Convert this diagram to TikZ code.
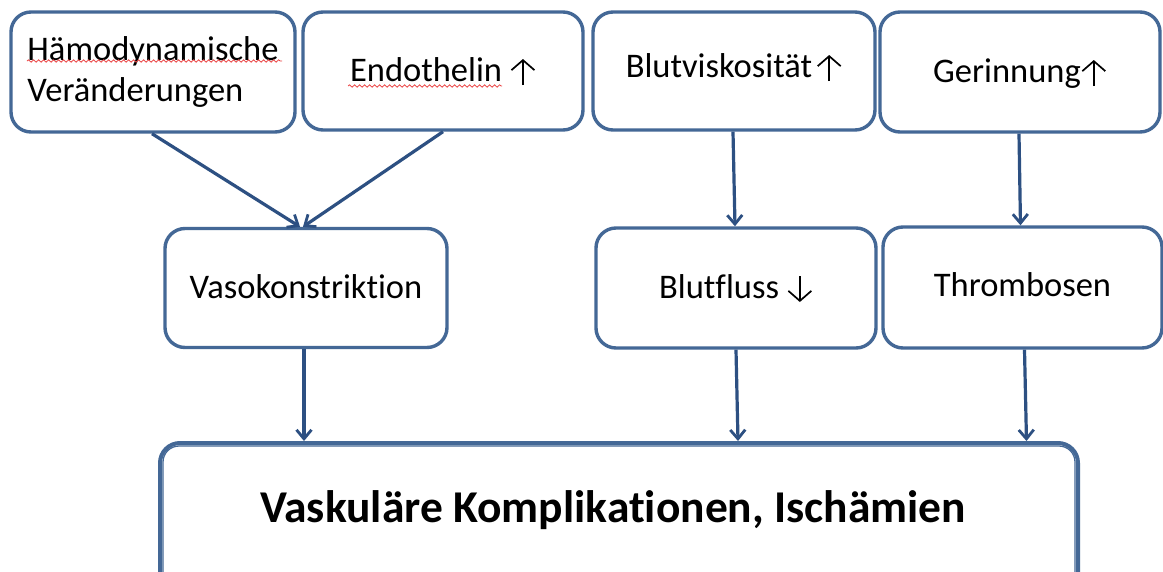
\documentclass[tikz,border=0pt]{standalone}
\usepackage{fontspec}
\setmainfont{Carlito}[Ligatures={NoCommon}]
\usetikzlibrary{arrows.meta,decorations.pathmorphing}
\definecolor{boxblue}{RGB}{68,104,150}
\definecolor{arrblue}{RGB}{45,80,130}
\definecolor{wavered}{RGB}{235,70,70}
\tikzset{
  glypharr/.style={draw=black, fill=none, line width=1.7pt, sharp corners,
    -{Straight Barb[length=10pt,width=23pt,line width=1.7pt]}},
  box/.style={draw=boxblue, line width=3.4pt, rounded corners=20pt, fill=white,
    inner sep=0pt, font=\fontsize{34.5}{41}\selectfont, text=black},
  sbox/.style={box, text height=20pt, text depth=0pt},
  conn/.style={draw=arrblue, line width=3.2pt, -{Straight Barb[length=9pt,width=15pt,line width=2.8pt]}},
  wave/.style={draw=wavered, line width=0.8pt, decorate,
    decoration={snake, amplitude=1.2pt, segment length=5pt}},
  thinline/.style={draw=boxblue, line width=1.3pt, rounded corners=16pt}
}
\newcommand{\uparr}{\tikz[x=1pt,y=1pt,baseline=0pt]{\path (-13,-4) rectangle (13,22);
  \draw[glypharr] (0,-4) -- (0,22);}}
\newcommand{\dnarr}{\tikz[x=1pt,y=1pt,baseline=0pt]{\path (-13,-4) rectangle (13,22);
  \draw[glypharr] (0,22) -- (0,-4);}}
\begin{document}
\begin{tikzpicture}[x=1pt,y=-1pt]
\useasboundingbox (0,0) rectangle (1163,571);
\clip (0,0) rectangle (1163,571);
\fill[white] (0,0) rectangle (1163,571);
% top row
\node[box, minimum width=284pt, minimum height=120pt, align=left] (b1) at (153,72)
  {Hämodynamische\\Veränderungen};
\node[sbox, minimum width=280pt, minimum height=118pt] (b2) at (443,71) {Endothelin \uparr};
\node[sbox, text height=12pt, minimum width=282pt, minimum height=118pt] (b3) at (734,71) {Blutviskosität\hspace{4pt}\uparr};
\node[sbox, minimum width=280pt, minimum height=120pt] (b4) at (1020,72) {Gerinnung\uparr};
% middle row
\node[sbox, minimum width=282pt, minimum height=119pt] (b5) at (306,288) {Vasokonstriktion};
\node[sbox, minimum width=280pt, minimum height=120pt] (b6) at (736,288) {Blutfluss \dnarr};
\node[sbox, text height=17pt, minimum width=279pt, minimum height=121pt] (b7) at (1022.5,287.5) {Thrombosen};
% bottom
\node[box, line width=4pt, minimum width=918pt, minimum height=150pt] (b8) at (619,518) {};
\draw[thinline] ([shift={(5,5)}]b8.north west) rectangle ([shift={(-5,-5)}]b8.south east);
\node[font=\bfseries\fontsize{45.5}{50}\selectfont, inner sep=0pt] (b8t) at (613,510)
  {Vaskuläre Komplikationen, Ischämien};
% spell-check waves
\draw[wave] (27,61) -- (282,61);
\draw[wave] (348,86) -- (502,86);
% connectors
\draw[conn] ([xshift=-1pt]b1.south) -- ([xshift=-6pt]b5.north);
\draw[conn] (b2.south) -- ([xshift=-3pt]b5.north);
\draw[conn] ([xshift=-1pt]b3.south) -- ([xshift=-1pt]b6.north);
\draw[conn] ([xshift=-1pt]b4.south) -- ([xshift=-2pt]b7.north);
\draw[conn] ([xshift=-2pt]b5.south) -- ([xshift=-2pt]b5.south |- b8.north);
\draw[conn] (b6.south) -- ([xshift=2pt]b6.south |- b8.north);
\draw[conn] ([xshift=2pt]b7.south) -- ([xshift=4pt]b7.south |- b8.north);
\end{tikzpicture}
\end{document}
